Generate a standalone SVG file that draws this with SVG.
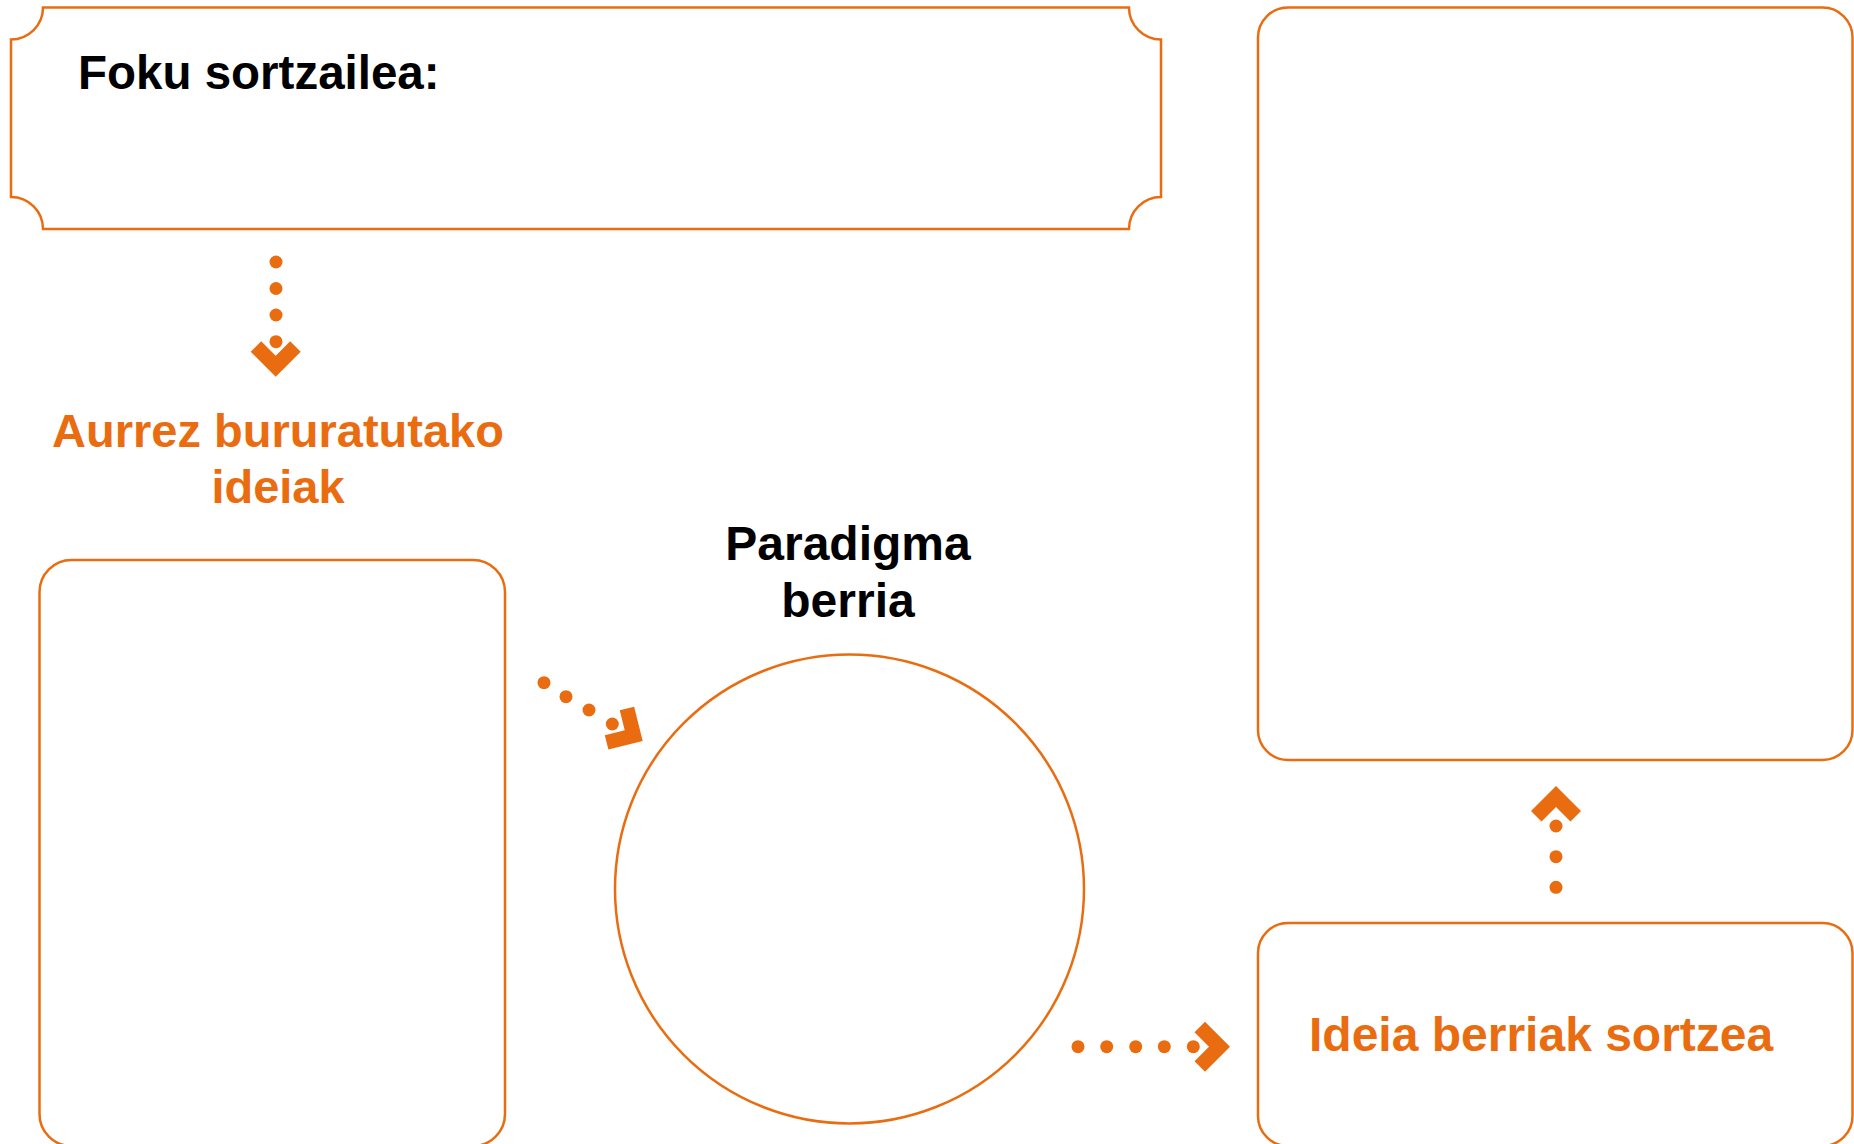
<svg xmlns="http://www.w3.org/2000/svg" width="1854" height="1144" viewBox="0 0 1854 1144">
<style>
.box{fill:#fff;stroke:#E96D10;stroke-width:2.5}
.dot{fill:#E96D10}
.chev{fill:#E96D10}
.t{font-family:"Liberation Sans",Arial,sans-serif;font-weight:bold;font-size:48px}
.blk{fill:#000}
.org{fill:#E96D10}
</style>
<defs>
<path id="chev" d="M0,0 L-25,-25 L-14.5,-35.5 L0,-21 L14.5,-35.5 L25,-25 Z"/>
</defs>
<rect width="1854" height="1144" fill="#fff"/>
<g id="focus">
<path class="box" d="M43,7.5 H1129 A32,32 0 0 0 1161,39.5 V197 A32,32 0 0 0 1129,229 H43 A32,32 0 0 0 11,197 V39.5 A32,32 0 0 0 43,7.5 Z"/>
<text class="t blk" x="78" y="89" style="font-size:47.5px">Foku sortzailea:</text>
</g>
<g id="prev-label">
<text class="t org" x="278" y="447" text-anchor="middle" style="font-size:47px">Aurrez bururatutako</text>
<text class="t org" x="278" y="503" text-anchor="middle" style="font-size:47px">ideiak</text>
</g>
<g id="prev-box">
<rect class="box" x="39.5" y="560" width="465.5" height="586" rx="32" ry="32"/>
</g>
<g id="paradigm">
<text class="t blk" x="848" y="560" text-anchor="middle">Paradigma</text>
<text class="t blk" x="848" y="617" text-anchor="middle">berria</text>
<circle class="box" cx="849.5" cy="889" r="234.5"/>
</g>
<g id="result-box">
<rect class="box" x="1258" y="7.5" width="594.5" height="752.5" rx="30" ry="30"/>
</g>
<g id="new-ideas">
<rect class="box" x="1258" y="923" width="594.5" height="223" rx="30" ry="30"/>
<text class="t org" x="1309" y="1051">Ideia berriak sortzea</text>
</g>
<g id="connectors">
<g class="dot">
<circle cx="276" cy="262" r="6.5"/>
<circle cx="276" cy="288.5" r="6.5"/>
<circle cx="276" cy="315" r="6.5"/>
<circle cx="276" cy="341.7" r="6.5"/>
</g>
<use href="#chev" class="chev" transform="translate(275.7,376.7)"/>
<g class="dot">
<circle cx="544" cy="682.7" r="6.5"/>
<circle cx="566" cy="696.7" r="6.5"/>
<circle cx="589" cy="710" r="6.5"/>
<circle cx="612.3" cy="724" r="6.5"/>
</g>
<use href="#chev" class="chev" transform="translate(642.7,741) rotate(-59)"/>
<g class="dot">
<circle cx="1078" cy="1046.7" r="6.5"/>
<circle cx="1106.7" cy="1046.7" r="6.5"/>
<circle cx="1135.7" cy="1046.7" r="6.5"/>
<circle cx="1164.3" cy="1046.7" r="6.5"/>
<circle cx="1193.3" cy="1046.7" r="6.5"/>
</g>
<use href="#chev" class="chev" transform="translate(1230,1046.7) rotate(-90)"/>
<g class="dot">
<circle cx="1556" cy="826" r="6.5"/>
<circle cx="1556" cy="856.7" r="6.5"/>
<circle cx="1556" cy="887.3" r="6.5"/>
</g>
<use href="#chev" class="chev" transform="translate(1556,786) rotate(180)"/>
</g>
</svg>
